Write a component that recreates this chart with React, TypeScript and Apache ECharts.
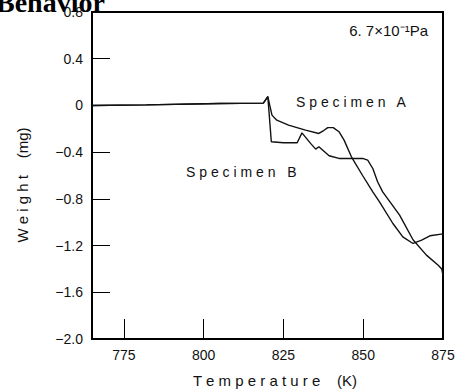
import React, { useEffect, useRef } from "react";
import * as echarts from "echarts";

const tempA = [765, 782, 805, 818.7, 820.1, 821.4, 822.9, 826.6, 831.9, 836.1, 837.6, 838.9, 840.6, 842.4, 844, 846.3, 849.8, 853, 855.1, 859.3, 862.4, 865.6, 868.3, 870.9, 875];
const weightA = [0.0, 0.005, 0.017, 0.02, 0.075, -0.083, -0.126, -0.169, -0.212, -0.24, -0.215, -0.19, -0.19, -0.225, -0.297, -0.44, -0.6, -0.74, -0.825, -1.011, -1.125, -1.182, -1.154, -1.116, -1.1];

const tempB = [765, 782, 805, 818.7, 820.1, 821.2, 825, 829.3, 830.8, 833.5, 835.1, 836.1, 839.3, 842.4, 849.8, 851.4, 853, 854.5, 856.1, 861.4, 865.6, 869.8, 873.5, 874.6, 875];
const weightB = [0.0, 0.005, 0.017, 0.02, 0.075, -0.311, -0.32, -0.32, -0.235, -0.325, -0.374, -0.354, -0.431, -0.454, -0.454, -0.469, -0.54, -0.654, -0.74, -0.94, -1.15, -1.282, -1.368, -1.4, -1.455];

const xTicks = [775, 800, 825, 850];
const xLabels = [775, 800, 825, 850, 875];

const FONT = "'Liberation Sans', sans-serif";

export default function App() {
  const ref = useRef<HTMLDivElement>(null);
  useEffect(() => {
    if (!ref.current) return;
    const chart = echarts.init(ref.current, null, { renderer: "svg" });
    const pairs = (xs: number[], ys: number[]) => xs.map((x, i) => [x, ys[i]]);
    chart.setOption({
      animation: false,
      backgroundColor: "#fff",
      grid: { left: 92, right: 15, top: 12, bottom: 50, show: true, borderColor: "#000", borderWidth: 2, backgroundColor: "transparent" },
      xAxis: {
        type: "value",
        min: 765,
        max: 875,
        axisLine: { show: true, onZero: false, lineStyle: { color: "#000", width: 2 } },
        axisTick: { show: true, inside: true, length: 20, customValues: xTicks, lineStyle: { color: "#000", width: 1 } },
        axisLabel: { customValues: xLabels, color: "#111", fontSize: 14, fontFamily: FONT, margin: 9 },
        splitLine: { show: false },
      },
      yAxis: {
        type: "value",
        min: -2.0,
        max: 0.8,
        interval: 0.4,
        axisLine: { show: true, onZero: false, lineStyle: { color: "#000", width: 2 } },
        axisTick: { show: true, inside: true, length: 18, lineStyle: { color: "#000", width: 1 } },
        axisLabel: {
          color: "#111",
          fontSize: 14,
          fontFamily: FONT,
          margin: 9,
          padding: [5, 0, 0, 0],
          formatter: (v: number) => {
            const r = Math.round(v * 10) / 10;
            if (r === 0) return "0";
            const s = Math.abs(r).toFixed(1);
            return (r < 0 ? "−" : "") + s;
          },
        },
        splitLine: { show: false },
      },
      series: [
        { type: "line", name: "Specimen A", data: pairs(tempA, weightA), showSymbol: false, lineStyle: { color: "#111", width: 1.4 } },
        { type: "line", name: "Specimen B", data: pairs(tempB, weightB), showSymbol: false, lineStyle: { color: "#111", width: 1.4 } },
      ],
      graphic: [
        { type: "text", x: -4, y: 16, style: { text: "Behavior", font: "bold 28px 'Liberation Serif', serif", fill: "#000", verticalAlign: "bottom" } },
        { type: "text", x: 428, y: 30, style: { text: "6. 7×10⁻¹Pa", font: `15px ${FONT}`, fill: "#111", align: "right", verticalAlign: "middle" } },
        { type: "text", x: 296, y: 102, style: { text: "S p e c i m e n   A", font: `14px ${FONT}`, fill: "#111", verticalAlign: "middle" } },
        { type: "text", x: 186, y: 172, style: { text: "S p e c i m e n   B", font: `14px ${FONT}`, fill: "#111", verticalAlign: "middle" } },
        { type: "text", x: 275, y: 380, style: { text: "T e m p e r a t u r e    (K)", font: `15px ${FONT}`, fill: "#111", align: "center", verticalAlign: "middle" } },
        { type: "text", x: 22, y: 185, rotation: Math.PI / 2, style: { text: "W e i g h t    (mg)", font: `15px ${FONT}`, fill: "#111", align: "center", verticalAlign: "middle" } },
      ],
    });
    return () => chart.dispose();
  }, []);
  return <div ref={ref} style={{ width: 458, height: 389, position: "absolute", left: 0, top: 0 }} />;
}
